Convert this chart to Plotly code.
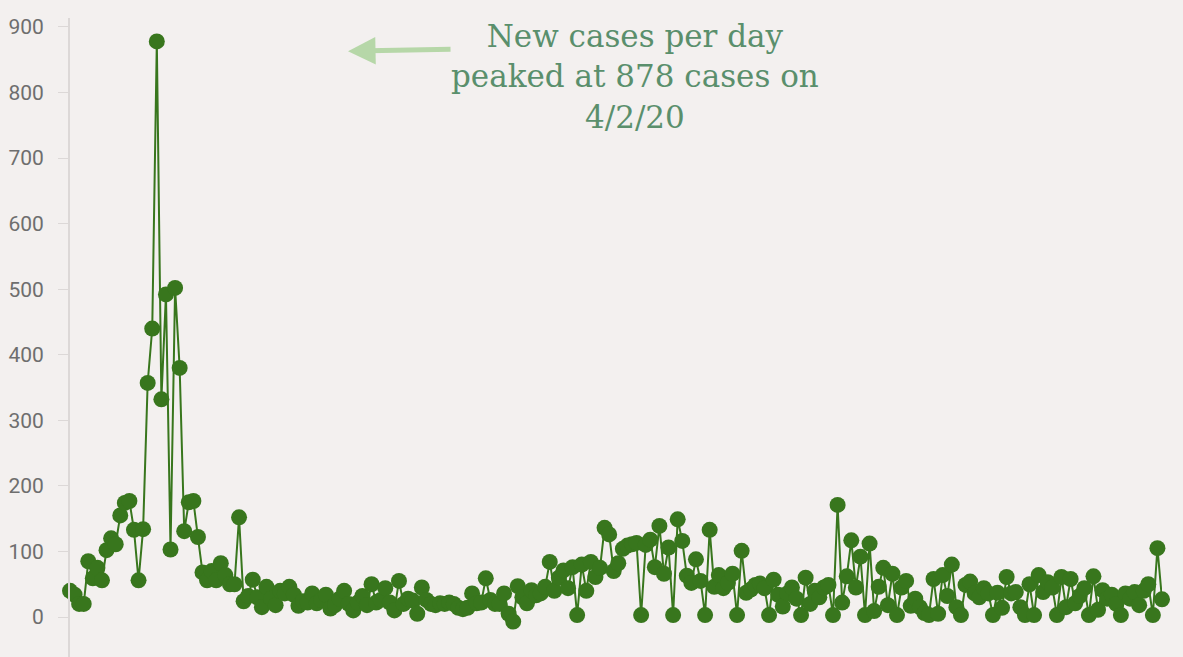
import pandas as pd
import plotly.graph_objects as go

start_date = "2020-03-14"
new_cases = [
    40, 34, 20, 20, 85, 59, 75, 56, 102, 120,
    111, 155, 174, 177, 133, 56, 134, 357, 440, 878,
    332, 492, 103, 502, 380, 131, 175, 177, 122, 68,
    56, 70, 56, 82, 64, 50, 50, 152, 24, 32,
    57, 30, 15, 46, 28, 18, 40, 36, 46, 34,
    17, 24, 22, 36, 21, 26, 34, 13, 18, 28,
    40, 20, 10, 22, 32, 18, 50, 22, 26, 44,
    22, 10, 55, 20, 28, 25, 5, 45, 26, 20,
    18, 21, 20, 22, 20, 14, 12, 14, 36, 21,
    22, 59, 26, 20, 20, 36, 5, -7, 47, 30,
    21, 41, 33, 36, 46, 84, 40, 60, 71, 44,
    76, 3, 80, 40, 84, 61, 75, 136, 126, 70,
    82, 104, 109, 111, 113, 3, 110, 118, 76, 139,
    66, 106, 3, 149, 116, 63, 52, 88, 55, 3,
    133, 46, 64, 44, 52, 66, 3, 101, 37, 42,
    49, 51, 44, 3, 57, 34, 16, 36, 45, 28,
    3, 60, 20, 40, 30, 45, 49, 3, 171, 22,
    62, 117, 45, 92, 3, 112, 9, 46, 75, 18,
    66, 3, 45, 55, 17, 28, 15, 6, 3, 58,
    5, 64, 32, 80, 15, 3, 49, 54, 36, 30,
    44, 36, 3, 37, 14, 61, 36, 38, 15, 3,
    50, 3, 64, 38, 53, 45, 3, 61, 15, 58,
    21, 32, 44, 3, 62, 11, 41, 28, 34, 20,
    3, 36, 28, 38, 18, 40, 50, 3, 105, 27,
]
dates = pd.date_range(start_date, periods=len(new_cases), freq="D")

y_ticks = [0, 100, 200, 300, 400, 500, 600, 700, 800, 900]
note_text = "New cases per day<br>peaked at 878 cases on<br>4/2/20"

green = "#38761d"
bg = "#f3f0ef"

fig = go.Figure()
fig.add_trace(go.Scatter(
    x=dates, y=new_cases, mode="lines+markers",
    line=dict(color=green, width=2),
    marker=dict(color=green, size=16),
    cliponaxis=False,
    hoverinfo="x+y",
))

fig.update_layout(
    width=1183, height=657,
    paper_bgcolor=bg, plot_bgcolor=bg,
    margin=dict(l=70, r=21, t=18, b=0),
    showlegend=False,
    xaxis=dict(range=[dates[0], dates[-1]], visible=False, showgrid=False, zeroline=False),
    yaxis=dict(
        range=[-61, 913.7], tickvals=y_ticks, showgrid=False, zeroline=False,
        showline=True, linecolor="#dcd8d7", linewidth=2,
        ticks="outside", ticklen=10, tickcolor="#dcd8d7", tickwidth=1,
        ticklabelstandoff=10,
        tickfont=dict(family="Roboto", size=21, color="#6e6e6e"),
    ),
    annotations=[
        dict(xref="paper", yref="paper", x=0.517, y=0.909, xanchor="center", yanchor="middle",
             text=note_text, showarrow=False, align="center",
             font=dict(family="DejaVu Serif", size=31, color="#5a8f6c")),
        dict(xref="paper", yref="paper", x=0.2546, y=0.948, text="", showarrow=True,
             ax=104, ay=-2, arrowcolor="#b6d7a8", arrowwidth=5, arrowhead=2, arrowsize=1.1),
    ],
)

fig.write_html(
    "out.html",
    config={"displayModeBar": False},
    post_script="document.body.style.margin='0';document.body.style.overflow='hidden';document.body.style.background='#f3f0ef';",
)
